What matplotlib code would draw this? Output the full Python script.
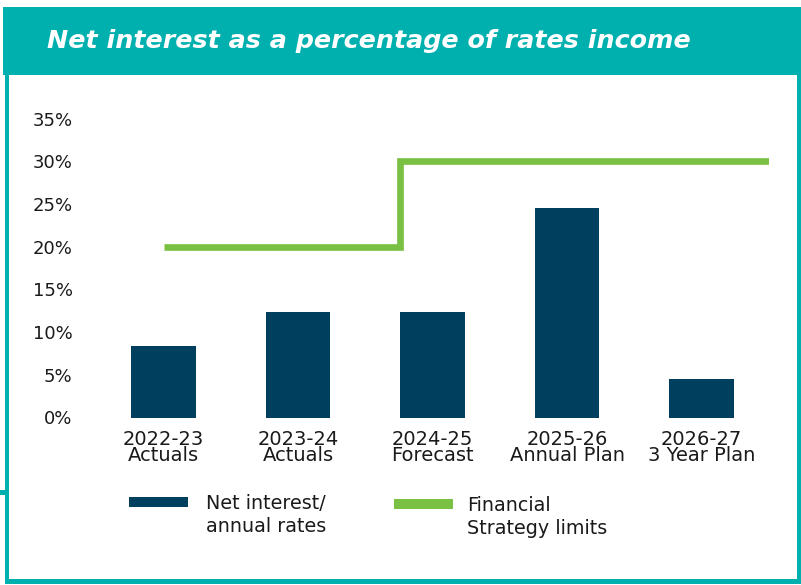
import matplotlib.pyplot as plt
from matplotlib.patches import Rectangle

# data
categories = ["2022-23\nActuals", "2023-24\nActuals", "2024-25\nForecast",
              "2025-26\nAnnual Plan", "2026-27\n3 Year Plan"]
net_interest = [8.4, 12.3, 12.3, 24.5, 4.5]
limit_x = [0, 1.76, 1.76, 4.5]
limit_y = [20, 20, 30, 30]
y_ticks = [0, 5, 10, 15, 20, 25, 30, 35]
tick_labels = [f"{v}%" for v in y_ticks]

title = "Net interest as a percentage of rates income"
bar_label = "Net interest/\nannual rates"
line_label = "Financial\nStrategy limits"

teal = "#00B0AF"
navy = "#003F5E"
green = "#7AC143"
txt = "#1a1a1a"

W, H = 801, 585
fig = plt.figure(figsize=(W / 100, H / 100), dpi=100)


def px_rect(x0, y0, x1, y1, color):
    # rectangle given in pixel coords (top-left origin)
    fig.patches.append(Rectangle((x0 / W, 1 - y1 / H), (x1 - x0) / W, (y1 - y0) / H,
                                 transform=fig.transFigure, color=color, lw=0))


#Frame and header band
px_rect(3, 7, 801, 75, teal)
px_rect(5, 75, 9, 584, teal)
px_rect(797, 75, 801, 584, teal)
px_rect(5, 579, 801, 584, teal)
px_rect(0, 490, 5, 495, teal)

fig.text(47 / W, 1 - 48 / H, title, color="white", fontsize=18.3, fontweight="bold",
         fontstyle="italic", family="DejaVu Sans", va="baseline", ha="left")

ax = fig.add_axes([96.25 / W, 1 - 417.5 / H, (768.75 - 96.25) / W, (417.5 - 118.6) / H])
x = list(range(len(categories)))
ax.bar(x, net_interest, width=0.48, color=navy, zorder=2)
ax.plot(limit_x, limit_y, color=green, lw=4.8, solid_capstyle="butt",
        solid_joinstyle="miter", zorder=3)

ax.set_xlim(-0.5, 4.5)
ax.set_ylim(0, 35)
ax.set_yticks(y_ticks)
ax.set_yticklabels(tick_labels, fontsize=13, color=txt)
ax.set_xticks(x)
ax.set_xticklabels(categories, fontsize=14, color=txt, linespacing=0.8)
ax.tick_params(axis="y", length=0, pad=17)
ax.tick_params(axis="x", length=0, pad=9)
for s in ax.spines.values():
    s.set_visible(False)

#Legend drawn by hand so the swatch sits on the first line
px_rect(129, 497, 188, 507, navy)
fig.text(206 / W, 1 - 494 / H, bar_label, fontsize=13.8, color=txt,
         va="top", ha="left", linespacing=1.25)
px_rect(394, 499, 453, 509, green)
fig.text(467 / W, 1 - 496 / H, line_label, fontsize=13.8, color=txt,
         va="top", ha="left", linespacing=1.25)

fig.savefig("out.png", dpi=100)
